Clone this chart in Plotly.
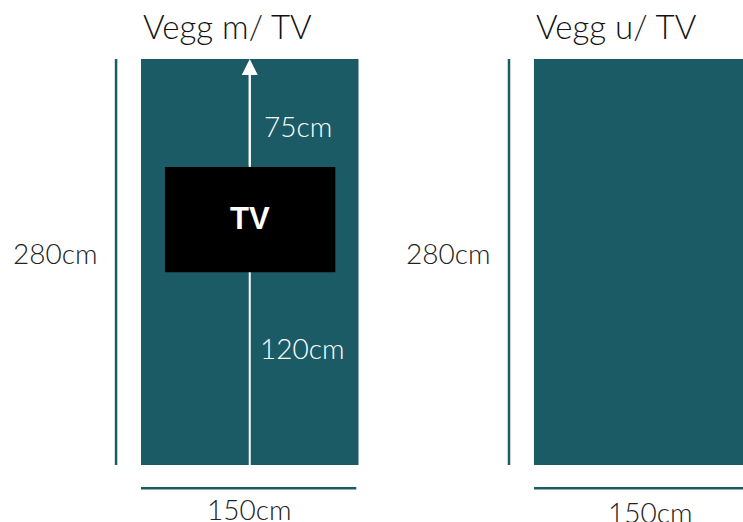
import plotly.graph_objects as go

# --- data (cm) ---
walls = ["Vegg m/ TV", "Vegg u/ TV"]
wall_width_cm = 150
wall_height_cm = 280
wall_offsets_cm = [0, 271]          # horizontal position of each wall in the drawing
tv_x_cm = [16.5, 134]               # TV left / right edge
tv_y_cm = [133, 205.5]              # TV bottom / top edge
tv_label = "TV"
above_tv_label = "75cm"
below_tv_label = "120cm"
height_label = "280cm"
width_label = "150cm"

TEAL = "#1b5b66"
TEXT = "#222222"
FONT = "Lato"

S = 1.45   # px per cm in the drawing
W, H = 743, 522
x0_px, y0_px = 141, 465   # pixel position of the first wall's bottom-left corner

fig = go.Figure()
shapes = []
annotations = []
width_label_dx = [74.5, 80]
width_label_y = [-30.5, -32.5]

for i, (name, off) in enumerate(zip(walls, wall_offsets_cm)):
    shapes.append(dict(type="rect", x0=off, x1=off + wall_width_cm, y0=0, y1=wall_height_cm,
                       fillcolor=TEAL, line=dict(width=0), layer="below"))
    shapes.append(dict(type="line", x0=off - 17.2, x1=off - 17.2, y0=0, y1=wall_height_cm,
                       line=dict(color=TEAL, width=2.5), layer="below"))
    shapes.append(dict(type="line", x0=off, x1=off + wall_width_cm - 1.5, y0=-16, y1=-16,
                       line=dict(color=TEAL, width=2.5), layer="below"))
    annotations.append(dict(x=off, y=303, text=name, showarrow=False, xanchor="left",
                            yanchor="middle",
                            font=dict(family=FONT, size=33, color="#111111", weight=300)))
    annotations.append(dict(x=off - 59.5, y=146, text=height_label, showarrow=False,
                            xanchor="center", yanchor="middle",
                            font=dict(family=FONT, size=28, color=TEXT, weight=300)))
    annotations.append(dict(x=off + width_label_dx[i], y=width_label_y[i], text=width_label,
                            showarrow=False, xanchor="center", yanchor="middle",
                            font=dict(family=FONT, size=28, color=TEXT, weight=300)))

# TV wall details
off = wall_offsets_cm[0]
mid = off + wall_width_cm / 2
shapes.append(dict(type="line", x0=mid, x1=mid, y0=0, y1=wall_height_cm - 8,
                   line=dict(color="white", width=2), layer="below"))
shapes.append(dict(type="rect", x0=off + tv_x_cm[0], x1=off + tv_x_cm[1],
                   y0=tv_y_cm[0], y1=tv_y_cm[1], fillcolor="black", line=dict(width=0),
                   layer="below"))
annotations.append(dict(x=mid, y=wall_height_cm, ax=mid, ay=tv_y_cm[1], axref="x", ayref="y",
                        xref="x", yref="y", showarrow=True, arrowhead=2, arrowsize=1.6,
                        arrowwidth=2, arrowcolor="white", text=""))
annotations.append(dict(x=mid, y=(tv_y_cm[0] + tv_y_cm[1]) / 2 + 1, text="<b>" + tv_label + "</b>",
                        showarrow=False, xanchor="center", yanchor="middle",
                        font=dict(family="Liberation Sans", size=31, color="white")))
annotations.append(dict(x=mid + 8.5, y=234, text=above_tv_label, showarrow=False,
                        xanchor="left", yanchor="middle",
                        font=dict(family=FONT, size=28, color="white", weight=300)))
annotations.append(dict(x=mid + 5.5, y=80.5, text=below_tv_label, showarrow=False,
                        xanchor="left", yanchor="middle",
                        font=dict(family=FONT, size=28, color="white", weight=300)))

fig.update_layout(
    width=W, height=H,
    margin=dict(l=0, r=0, t=0, b=0),
    paper_bgcolor="white", plot_bgcolor="white",
    showlegend=False,
    shapes=shapes, annotations=annotations,
    xaxis=dict(range=[-x0_px / S, (W - x0_px) / S], visible=False, fixedrange=True),
    yaxis=dict(range=[-(H - y0_px) / S, y0_px / S], visible=False, fixedrange=True),
)
fig.write_html("out.html", config={"displayModeBar": False},
               post_script="document.body.style.margin='0';document.body.style.overflow='hidden';")
